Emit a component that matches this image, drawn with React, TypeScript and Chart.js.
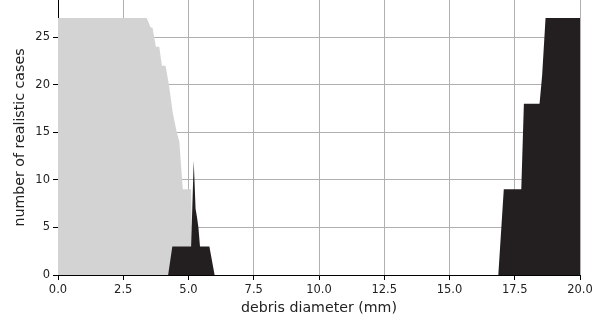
import React, { useEffect, useRef } from "react";
import { Chart, registerables } from "chart.js";

Chart.register(...registerables);

// Gray series (light area)
const grayX = [0, 3.40, 3.55, 3.62, 3.75, 3.88, 3.98, 4.12, 4.25, 4.40, 4.55, 4.65, 4.78, 5.10, 5.15, 20];
const grayY = [27, 27, 26, 26, 24, 24, 22, 22, 20, 17, 15, 14, 9, 9, 0, 0];

// Dark series
const darkX = [0, 4.22, 4.38, 5.10, 5.20, 5.27, 5.33, 5.38, 5.44, 5.80, 6.00, 16.87, 17.08, 17.75, 17.85, 18.45, 18.55, 18.68, 20];
const darkY = [0, 0, 3, 3, 12, 7, 6, 5, 3, 3, 0, 0, 9, 9, 18, 18, 21, 27, 27];

const xTicks = [0, 2.5, 5, 7.5, 10, 12.5, 15, 17.5, 20];
const yTicks = [0, 5, 10, 15, 20, 25];

const FONT = "'DejaVu Sans', sans-serif";

export default function App() {
  const ref = useRef<HTMLCanvasElement | null>(null);
  useEffect(() => {
    const canvas = ref.current!;
    const toPts = (xs: number[], ys: number[]) => xs.map((x, i) => ({ x, y: ys[i] }));
    const chart = new Chart(canvas, {
      type: "line",
      data: {
        datasets: [
          {
            data: toPts(darkX, darkY),
            backgroundColor: "#231f20",
            borderWidth: 0,
            pointRadius: 0,
            fill: "origin",
            tension: 0,
            order: 0,
          },
          {
            data: toPts(grayX, grayY),
            backgroundColor: "#d3d3d3",
            borderWidth: 0,
            pointRadius: 0,
            fill: "origin",
            tension: 0,
            order: 1,
          },
        ],
      },
      options: {
        animation: false,
        responsive: false,
        layout: { padding: { top: 0, right: 30, left: 0, bottom: 0 } },
        plugins: { legend: { display: false }, tooltip: { enabled: false } },
        scales: {
          x: {
            type: "linear",
            min: 0,
            max: 20,
            z: 1,
            afterBuildTicks: (s: any) => {
              s.ticks = xTicks.map((v) => ({ value: v }));
            },
            afterFit: (s: any) => {
              s.height = 49;
              s.paddingLeft = 0;
              s.paddingRight = 0;
            },
            grid: { color: "#b0b0b0", lineWidth: 1, tickColor: "#000", tickLength: 5 },
            border: { display: true, color: "#000", width: 1 },
            ticks: {
              autoSkip: false,
              maxRotation: 0,
              padding: 3,
              color: "#222",
              font: { family: FONT, size: 11.5 },
              callback: (v: any) => Number(v).toFixed(1),
            },
            title: {
              display: true,
              text: "debris diameter (mm)",
              color: "#222",
              font: { family: FONT, size: 14.2 },
              padding: { top: 0, bottom: 7 },
            },
          },
          y: {
            type: "linear",
            min: 0,
            max: 28.9,
            z: 1,
            afterBuildTicks: (s: any) => {
              s.ticks = yTicks.map((v) => ({ value: v }));
            },
            afterFit: (s: any) => {
              s.width = 58;
              s.paddingTop = 0;
              s.paddingBottom = 0;
            },
            grid: { color: "#b0b0b0", lineWidth: 1, tickColor: "#000", tickLength: 5 },
            border: { display: true, color: "#000", width: 1 },
            ticks: {
              autoSkip: false,
              padding: 3,
              color: "#222",
              font: { family: FONT, size: 11.5 },
              callback: (v: any) => String(v),
            },
            title: {
              display: true,
              text: "number of realistic cases",
              color: "#222",
              font: { family: FONT, size: 14.2 },
              padding: { top: 12, bottom: 0 },
            },
          },
        },
      },
    });
    return () => chart.destroy();
  }, []);
  return (
    <div style={{ position: "fixed", left: 0, top: 0, width: 610, height: 324, background: "#fff" }}>
      <canvas ref={ref} width={610} height={324} style={{ width: 610, height: 324 }} />
    </div>
  );
}
